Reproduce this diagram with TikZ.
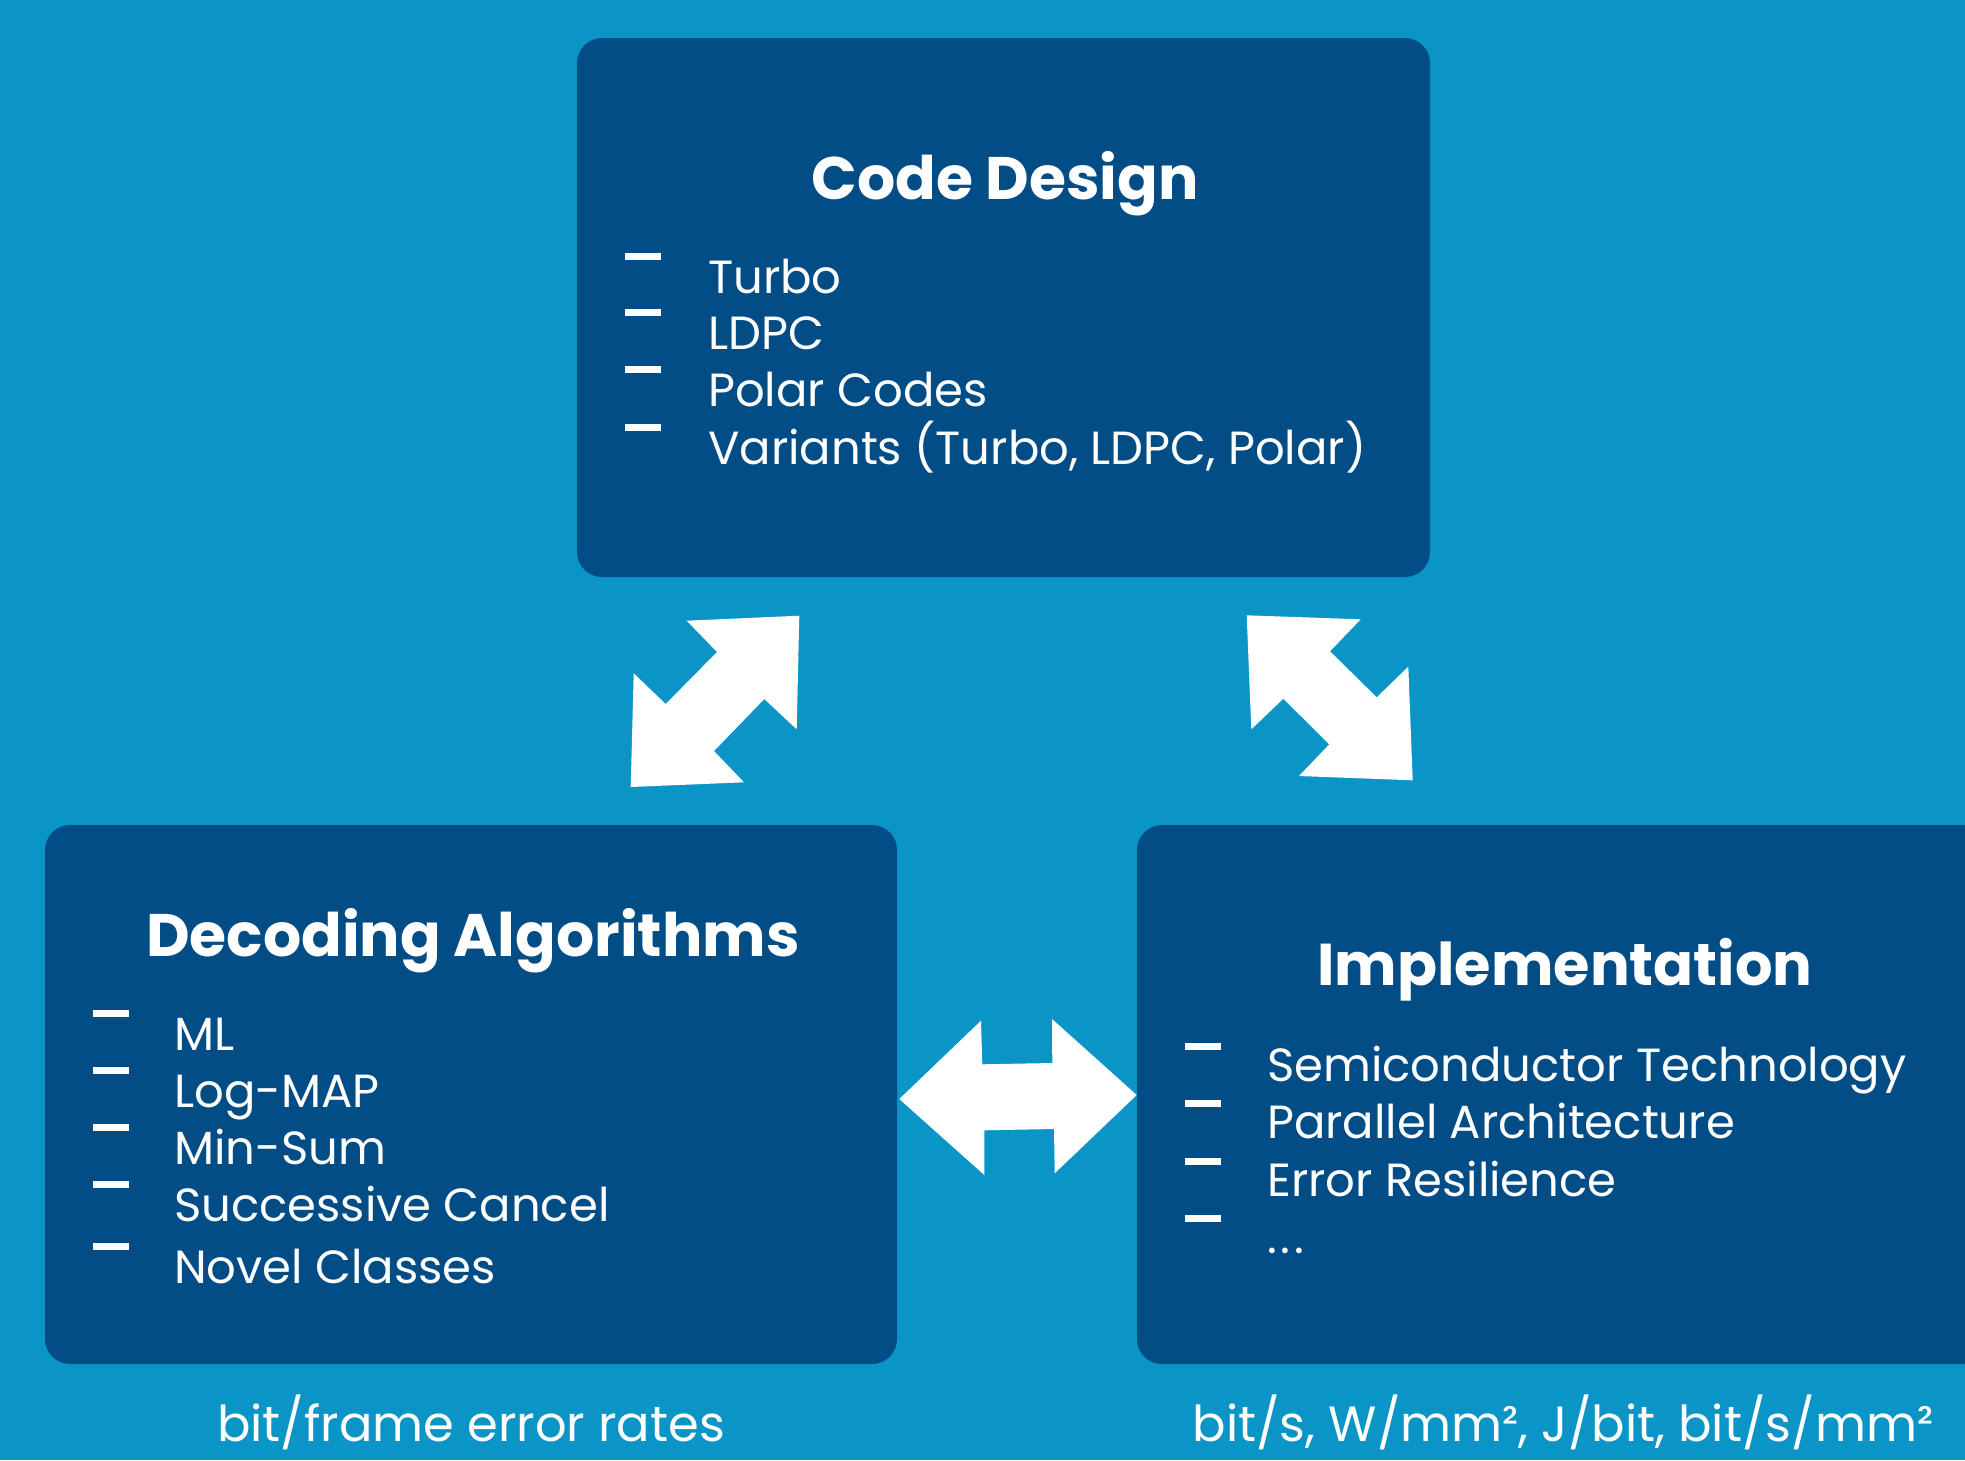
\documentclass[tikz,border=0pt]{standalone}
\usepackage{fontspec}
\setmainfont{Poppins}
\definecolor{bgblue}{RGB}{11,149,199}
\definecolor{boxblue}{RGB}{2,77,133}
\begin{document}
\begin{tikzpicture}[x=1pt,y=-1pt,
  panel/.style={fill=boxblue,rounded corners=25pt,draw=none,inner sep=0pt},
  ttl/.style={text=white,font=\fontsize{60}{60}\selectfont\bfseries,anchor=base,inner sep=0pt},
  itm/.style={text=white,font=\fontsize{46.5}{46.5}\selectfont,anchor=base west,inner sep=0pt},
  btm/.style={text=white,font=\fontsize{49.5}{49.5}\selectfont,anchor=base,inner sep=0pt},
  bar/.style={fill=white,draw=none},
  bigarrow/.style={fill=white,draw=none}]
\useasboundingbox (0,0) rectangle (1965,1460);
\clip (0,0) rectangle (1965,1460);
\fill[bgblue] (0,0) rectangle (1965,1460);
% panels
\node[panel,minimum width=853pt,minimum height=539pt] (code) at (1003.5,307.5) {};
\node[panel,minimum width=852pt,minimum height=539pt] (dec) at (471,1094.5) {};
\node[panel,minimum width=870pt,minimum height=539pt] (impl) at (1572,1094.5) {};
% titles
\node[ttl] (codet) at (1005,199) {Code Design};
\node[ttl] (dect) at (473,956) {Decoding Algorithms};
\node[ttl,font=\fontsize{59}{59}\selectfont\bfseries] (implt) at (1565,985) {Implementation};
% code items
\foreach \t/\y [count=\i] in {Turbo/293,LDPC/349,Polar Codes/406,{Variants (Turbo, LDPC, Polar)}/464}{
  \fill[bar] (625,\y-40) rectangle (661,\y-33);
  \node[itm] (ci\i) at (708,\y) {\t};
}
% decoding items
\foreach \t/\y [count=\i] in {ML/1050,Log-MAP/1107,Min-Sum/1164,Successive Cancel/1221,Novel Classes/1283}{
  \fill[bar] (93,\y-40) rectangle (129,\y-33);
  \node[itm] (di\i) at (174,\y) {\t};
}
% implementation items
\foreach \t/\y [count=\i] in {Semiconductor Technology/1081,Parallel Architecture/1138,Error Resilience/1196,{.\hspace{4pt}.\hspace{4pt}.}/1253}{
  \fill[bar] (1185,\y-38) rectangle (1221,\y-31);
  \node[itm] (ii\i) at (1267,\y) {\t};
}
% arrows
\fill[bigarrow] (799.3,615.7) -- (796.7,729.3) -- (764.3,699) -- (714,751) -- (744,782.3)
  -- (630.7,787) -- (633.7,673.3) -- (665.7,704) -- (717,652) -- (686.7,620.7) -- cycle;
\fill[bigarrow] (1246.7,615.3) -- (1360.7,619.3) -- (1330,651.3) -- (1376.7,697.3) -- (1408.3,666.7)
  -- (1412.7,780.3) -- (1299,776) -- (1329.3,744.3) -- (1283.3,698.7) -- (1251.3,729.3) -- cycle;
\fill[bigarrow] (899.3,1099) -- (981,1020.7) -- (982.3,1064.3) -- (1052.3,1063) -- (1052,1019)
  -- (1136.7,1095) -- (1054.7,1173.3) -- (1054,1129) -- (984.3,1130.3) -- (984.3,1175) -- cycle;
% bottom labels
\node[btm] (ber) at (471,1441) {bit/frame error rates};
\node[btm] (metrics) at (1563,1441) {bit/s, W/mm², J/bit, bit/s/mm²};
\end{tikzpicture}
\end{document}
